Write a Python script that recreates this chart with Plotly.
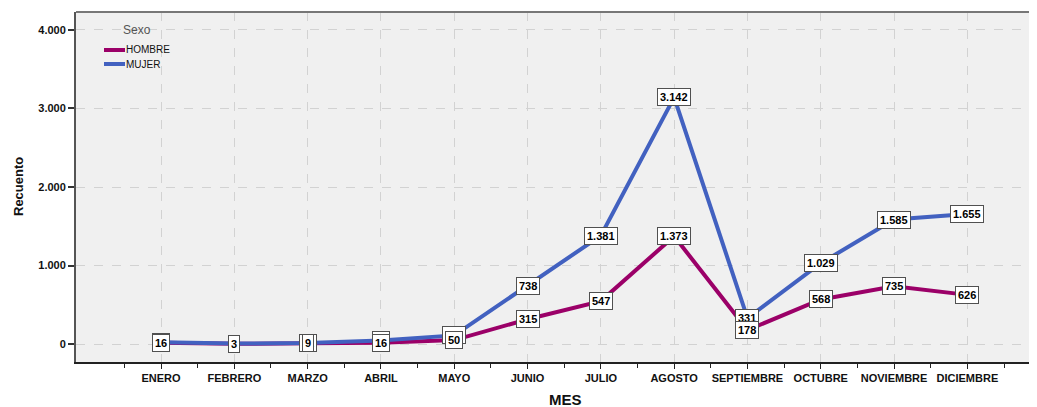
import plotly.graph_objects as go

months = ["ENERO", "FEBRERO", "MARZO", "ABRIL", "MAYO", "JUNIO", "JULIO",
          "AGOSTO", "SEPTIEMBRE", "OCTUBRE", "NOVIEMBRE", "DICIEMBRE"]
hombre = [16, 3, 9, 16, 50, 315, 547, 1373, 178, 568, 735, 626]
mujer = [22, 6, 12, 45, 110, 738, 1381, 3142, 331, 1029, 1585, 1655]
series_names = ["HOMBRE", "MUJER"]
y_ticks = [0, 1000, 2000, 3000, 4000]

C_H = "#9b0068"
C_M = "#4261c0"
FONT = "Liberation Sans, Arial, sans-serif"

# page body has an 8px default margin: size the figure to fit the window
OFF = 8
W, H = 1037 - OFF, 407 - OFF
L, R, T, B = 76 - OFF, 0, 12 - OFF, 407 - 362
PW, PH = W - L - R, H - T - B

def px_x(p):  # window pixel -> paper
    return (p - OFF - L) / PW

def px_y(p):
    return (H - B - (p - OFF)) / PH

xi = list(range(len(months)))

fig = go.Figure()
fig.add_trace(go.Scatter(x=xi, y=hombre, mode="lines", name=series_names[0],
                         line=dict(color=C_H, width=4), showlegend=False))
fig.add_trace(go.Scatter(x=xi, y=mujer, mode="lines", name=series_names[1],
                         line=dict(color=C_M, width=4), showlegend=False))

def fmt(v):
    return f"{v:,}".replace(",", ".")

ann = []
for series in (mujer, hombre):
    for x, v in zip(xi, series):
        ann.append(dict(x=x, y=v, xref="x", yref="y", text=f"<b>{fmt(v)}</b>",
                        showarrow=False, bgcolor="white", bordercolor="#505050",
                        borderwidth=1, borderpad=2,
                        font=dict(family=FONT, size=11, color="black")))

# axis titles
ann.append(dict(x=px_x(565), y=px_y(399), xref="paper", yref="paper", text="<b>MES</b>",
                showarrow=False, xanchor="center", yanchor="middle",
                font=dict(family=FONT, size=15, color="#111")))
ann.append(dict(x=px_x(18), y=px_y(187), xref="paper", yref="paper", text="<b>Recuento</b>",
                showarrow=False, xanchor="center", yanchor="middle", textangle=-90,
                font=dict(family=FONT, size=13, color="#111")))

# legend (title + entries)
ann.append(dict(x=px_x(121), y=px_y(30), xref="paper", yref="paper", text="Sexo",
                showarrow=False, xanchor="left", yanchor="middle",
                font=dict(family=FONT, size=12, color="#555")))
shapes = []
for i, (nm, col) in enumerate(zip(series_names, [C_H, C_M])):
    yy = 50 + 14 * i
    shapes.append(dict(type="line", xref="paper", yref="paper",
                       x0=px_x(104), x1=px_x(125), y0=px_y(yy), y1=px_y(yy),
                       line=dict(color=col, width=4)))
    ann.append(dict(x=px_x(124), y=px_y(yy), xref="paper", yref="paper", text=nm,
                    showarrow=False, xanchor="left", yanchor="middle",
                    font=dict(family=FONT, size=10, color="#111")))

# top frame line
shapes.append(dict(type="line", xref="paper", yref="paper", x0=0, x1=1, y0=1, y1=1,
                   line=dict(color="#777", width=2)))

fig.update_layout(
    width=W, height=H,
    margin=dict(l=L, r=R, t=T, b=B, autoexpand=False),
    paper_bgcolor="white", plot_bgcolor="#f0f0f0",
    separators=",.",
    font=dict(family=FONT, size=11, color="#222"),
    showlegend=False,
    annotations=ann,
    shapes=shapes,
)

fig.update_xaxes(
    range=[-1.16, 11.95], tickmode="array", tickvals=xi, ticktext=[f"<b>{m}</b>" for m in months],
    showgrid=True, gridcolor="#d2d2d2", griddash="dash", gridwidth=1,
    ticks="outside", ticklen=5, tickcolor="#222", tickwidth=1,
    minor=dict(tickvals=[i + 0.5 for i in range(-1, len(months))], ticks="outside",
               ticklen=4, tickcolor="#222", showgrid=False),
    showline=True, linecolor="#222", linewidth=1.5, mirror=False,
    zeroline=False, automargin=False, tickfont=dict(family=FONT, size=11, color="#111"),
)
fig.update_yaxes(
    range=[-229, 4229], tickmode="array", tickvals=y_ticks,
    ticktext=[f"<b>{fmt(v)}</b>" for v in y_ticks],
    showgrid=True, gridcolor="#d2d2d2", griddash="dash", gridwidth=1,
    ticks="outside", ticklen=6, tickcolor="#333", tickwidth=2,
    showline=True, linecolor="#555", linewidth=2, mirror=False,
    zeroline=False, automargin=False, tickfont=dict(family=FONT, size=11, color="#111"),
)

fig.write_html("out.html")
